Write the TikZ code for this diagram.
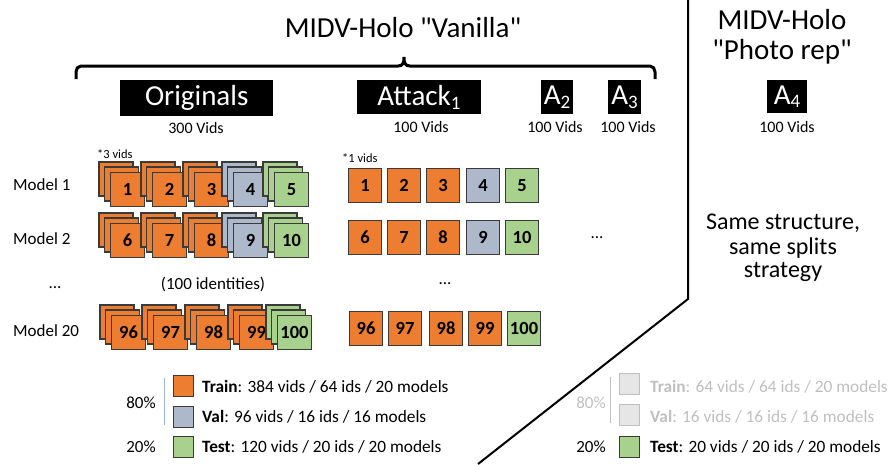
\documentclass[tikz,border=0pt]{standalone}
\usepackage{fontspec}
\setmainfont{Carlito}[Ligatures=TeXOff]
\definecolor{orng}{HTML}{ED7D31}
\definecolor{valc}{HTML}{ADB9CA}
\definecolor{tstc}{HTML}{A9D18E}
\definecolor{edgec}{HTML}{3A3A3A}
\definecolor{lgrey}{HTML}{BFBFBF}
\definecolor{lfill}{HTML}{E7E6E6}
\definecolor{lblue}{HTML}{9DB4DE}
\newcommand{\fs}[1]{\fontsize{#1}{#1}\selectfont}
\newcommand{\vidstack}[5]{%
  \draw[edgec,line width=1.1pt,fill=#4] (#2,#3) rectangle ++(34,34);
  \draw[edgec,line width=1.1pt,fill=#4] (#2+5.5,#3+5) rectangle ++(34,34);
  \node[sq,fill=#4] (#1) at (#2+11,#3+10) {#5};
}
\tikzset{
  sq/.style={draw=edgec, line width=1.1pt, minimum width=34pt, minimum height=34pt, inner sep=0pt, anchor=north west, font=\fs{18.5}\bfseries},
  asq/.style={sq, minimum width=33pt, minimum height=34pt},
  blk/.style={fill=black, text=white, inner sep=0pt, anchor=north west, font=\fs{29}},
  vids/.style={font=\fs{16}},
  lbl/.style={font=\fs{17}},
  lsq/.style={draw=edgec, line width=1.1pt, minimum width=20pt, minimum height=21pt, inner sep=0pt, anchor=north west},
  ltxt/.style={font=\fs{17.3}, anchor=west, inner sep=0pt},
}
\begin{document}
\begin{tikzpicture}[x=1pt,y=-1pt]
\useasboundingbox (0,0) rectangle (893,464);

% titles
\node[font=\fs{29}] (title) at (403,28) {MIDV-Holo "Vanilla"};
\node[font=\fontsize{29}{30}\selectfont,inner sep=0pt,align=center] (rt) at (782,37) {MIDV-Holo\\"Photo rep"};

% brace
\draw[line width=3pt] (76,79) -- (76,72) to[out=90,in=180] (81,66) -- (398,66)
  .. controls (403,66) and (404,63) .. (404,57)
  .. controls (404,63) and (405,66) .. (410,66) -- (650,66)
  to[out=0,in=90] (655,72) -- (655,79);

% divider
\draw[line width=2pt] (688,0) -- (688,299) -- (478,464);

% black boxes
\node[blk, minimum width=153pt, minimum height=36pt] (orig) at (120,80) {Originals};
\node[blk, minimum width=124pt, minimum height=34pt] (att1) at (357,80) {Attack\textsubscript{\fs{19}1}};
\node[blk, minimum width=32pt, minimum height=34pt] (a2) at (541,80) {A\textsubscript{\fs{19}2}};
\node[blk, minimum width=33pt, minimum height=34pt] (a3) at (608,80) {A\textsubscript{\fs{19}3}};
\node[blk, minimum width=40pt, minimum height=33pt] (a4) at (767,80) {A\textsubscript{\fs{19}4}};

\node[vids] (v0) at (196,128) {300 Vids};
\node[vids] (v1) at (421,127) {100 Vids};
\node[vids] (v2) at (555,127) {100 Vids};
\node[vids] (v3) at (628,127) {100 Vids};
\node[vids] (v4) at (787,127) {100 Vids};

% model labels
\node[lbl,anchor=west,inner sep=0pt] (m1) at (13,185) {Model 1};
\node[lbl,anchor=west,inner sep=0pt] (m2) at (13,239) {Model 2};
\node[lbl] (mdots) at (55,288) {...};
\node[lbl,anchor=west,inner sep=0pt] (m20) at (13,331) {Model 20};

\node[font=\fs{12.5},anchor=west,inner sep=0pt] (n3) at (97,154) {*3 vids};
\node[font=\fs{12.5},anchor=west,inner sep=0pt] (n1) at (342,158) {*1 vids};
\node[lbl] (ids) at (213,284) {(100 identities)};

% original stacks
\vidstack{o1}{99}{162}{orng}{1}
\vidstack{o2}{141}{162}{orng}{2}
\vidstack{o3}{183}{162}{orng}{3}
\vidstack{o4}{222}{162}{valc}{4}
\vidstack{o5}{263}{162}{tstc}{5}
\vidstack{o6}{99}{213}{orng}{6}
\vidstack{o7}{141}{213}{orng}{7}
\vidstack{o8}{183}{213}{orng}{8}
\vidstack{o9}{222}{213}{valc}{9}
\vidstack{o10}{263}{213}{tstc}{10}
\vidstack{o96}{100}{305}{orng}{96}
\vidstack{o97}{142}{305}{orng}{97}
\vidstack{o98}{185}{305}{orng}{98}
\vidstack{o99}{228}{305}{orng}{99}
\vidstack{o100}{266}{305}{tstc}{100}

% attack squares
\node[asq,fill=orng] (t1) at (348,168) {1};
\node[asq,fill=orng] (t2) at (387,168) {2};
\node[asq,fill=orng] (t3) at (426,168) {3};
\node[asq,fill=valc] (t4) at (466,168) {4};
\node[asq,fill=tstc] (t5) at (505,168) {5};
\node[asq,fill=orng] (t6) at (348,220) {6};
\node[asq,fill=orng] (t7) at (387,220) {7};
\node[asq,fill=orng] (t8) at (426,220) {8};
\node[asq,fill=valc] (t9) at (466,220) {9};
\node[asq,fill=tstc] (t10) at (505,220) {10};
\node[asq,fill=orng] (t96) at (349,311) {96};
\node[asq,fill=orng] (t97) at (388,311) {97};
\node[asq,fill=orng] (t98) at (429,311) {98};
\node[asq,fill=orng] (t99) at (468,311) {99};
\node[asq,fill=tstc] (t100) at (507,311) {100};
\node[lbl] (tdots) at (445,284) {...};
\node[lbl] (rdots) at (597,238) {...};

% right text
\node[font=\fs{24}] (s1) at (783,223) {Same structure,};
\node[font=\fs{24}] (s2) at (783,248) {same splits};
\node[font=\fs{24}] (s3) at (783,272) {strategy};

% left legend
\node[lbl] (p80) at (141,403) {80\%};
\node[lbl] (p20) at (141,447) {20\%};
\coordinate (lb1) at (164,378);
\coordinate (lb2) at (164,425);
\draw[lblue,line width=0.8pt] (lb1) -- (lb2);
\node[lsq,fill=orng] (ltr) at (173,375) {};
\node[lsq,fill=valc] (lva) at (173,406) {};
\node[lsq,fill=tstc] (lte) at (173,436) {};
\node[ltxt] (ttr) at (202,387) {\textbf{Train}: 384 vids / 64 ids / 20 models};
\node[ltxt] (tva) at (202,417) {\textbf{Val}: 96 vids / 16 ids / 16 models};
\node[ltxt] (tte) at (202,447) {\textbf{Test}: 120 vids / 20 ids / 20 models};

% right legend
\node[lbl,text=lgrey] (q80) at (591,403) {80\%};
\node[lbl] (q20) at (591,447) {20\%};
\coordinate (rb1) at (610,377);
\coordinate (rb2) at (610,423);
\draw[lgrey,line width=0.8pt] (rb1) -- (rb2);
\node[lsq,fill=lfill,draw=lgrey] (rtr) at (619,373) {};
\node[lsq,fill=lfill,draw=lgrey] (rva) at (619,404) {};
\node[lsq,fill=tstc] (rte) at (619,436) {};
\node[ltxt,text=lgrey] (utr) at (650,387) {\textbf{Train}: 64 vids / 64 ids / 20 models};
\node[ltxt,text=lgrey] (uva) at (650,417) {\textbf{Val}: 16 vids / 16 ids / 16 models};
\node[ltxt] (ute) at (650,447) {\textbf{Test}: 20 vids / 20 ids / 20 models};
\end{tikzpicture}
\end{document}
